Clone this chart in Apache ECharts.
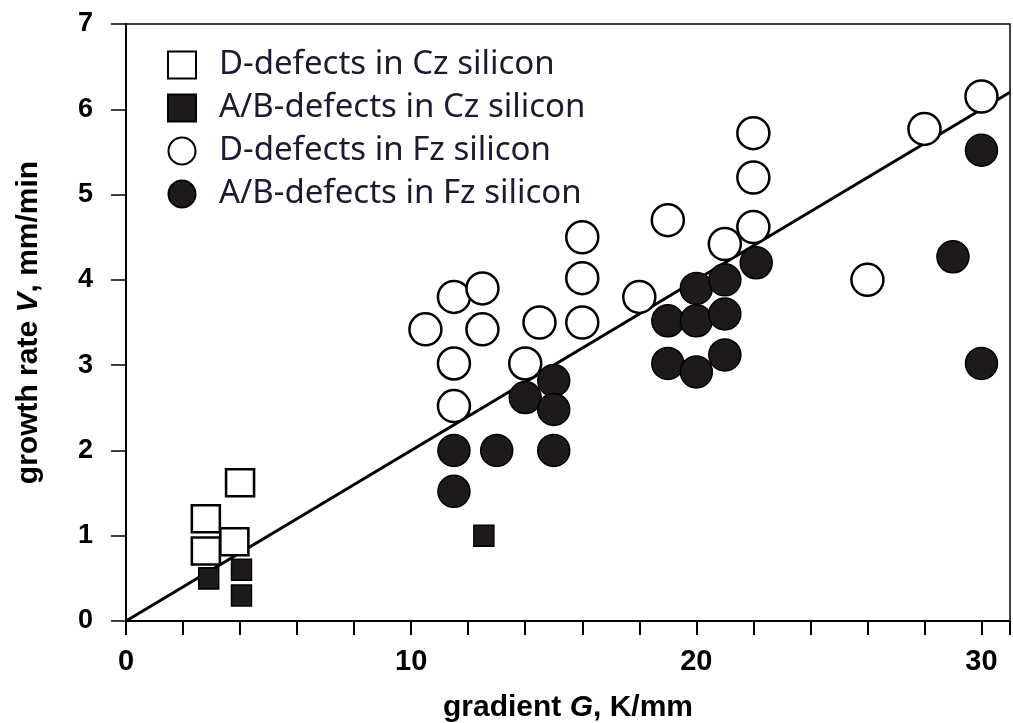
<!DOCTYPE html>
<html>
<head>
<meta charset="utf-8">
<script src="https://cdn.jsdelivr.net/npm/echarts@6/dist/echarts.min.js"></script>
<style>
  html, body { margin: 0; padding: 0; background: #fff; }
  #chart { width: 1013px; height: 723px; }
</style>
</head>
<body>
<div id="chart"></div>
<script>
// gradient G (K/mm), growth rate V (mm/min)
var czD = [[2.8, 1.2], [2.8, 0.82], [3.8, 0.93], [4.0, 1.62]];
var czAB = [[2.9, 0.5], [4.05, 0.6], [4.05, 0.3], [12.55, 1.0]];
var fzD = [
  [10.5, 3.42], [11.5, 3.8], [11.5, 3.02], [11.5, 2.52], [12.5, 3.9], [12.5, 3.42],
  [14.0, 3.02], [14.5, 3.5], [16, 4.5], [16, 4.02], [16, 3.5], [18, 3.8],
  [19, 4.7], [21, 4.42], [22, 4.62], [22, 5.2], [22, 5.72], [26, 4.0],
  [28, 5.77], [30, 6.15]
];
var fzAB = [
  [11.5, 1.52], [11.5, 2.0], [13, 2.0], [14, 2.62], [15, 2.82], [15, 2.48],
  [15, 2.0], [19, 3.52], [19, 3.02], [20, 3.9], [20, 3.52], [20, 2.92],
  [21, 4.0], [21, 3.6], [21, 3.12], [22.1, 4.2], [29, 4.27], [30, 5.52], [30, 3.02]
];
// critical V/G line
var fitLine = [[0, 0], [31, 6.2]];

var seriesNames = [
  'D-defects in Cz silicon',
  'A/B-defects in Cz silicon',
  'D-defects in Fz silicon',
  'A/B-defects in Fz silicon'
];

var myChart = echarts.init(document.getElementById('chart'));

var openStyle = { color: '#fff', borderColor: '#000', borderWidth: 2.5, opacity: 1 };
var fillStyle = { color: '#1e1a1a', borderColor: '#000', borderWidth: 1.5, opacity: 1 };

var nameRich = {
  b: { fontFamily: 'Liberation Sans', fontWeight: 'bold', fontSize: 30, color: '#000' },
  i: { fontFamily: 'Liberation Sans', fontWeight: 'bold', fontStyle: 'italic', fontSize: 30, color: '#000' }
};

var option = {
  animation: false,
  backgroundColor: '#fff',
  grid: {
    left: 126, top: 24, right: 3, bottom: 102,
    outerBoundsMode: 'none',
    containLabel: false,
    show: true, borderColor: '#000', borderWidth: 1.5
  },
  legend: {
    orient: 'vertical',
    left: 162,
    top: 43,
    itemWidth: 28,
    itemHeight: 27,
    itemGap: 9,
    data: seriesNames,
    textStyle: {
      fontFamily: 'Noto Sans',
      fontSize: 33,
      lineHeight: 34,
      color: '#1a1a30',
      padding: [0, 0, 0, 18]
    }
  },
  xAxis: {
    type: 'value',
    min: 0,
    max: 31,
    interval: 2,
    name: '{b|gradient }{i|G}{b|, K/mm}',
    nameLocation: 'middle',
    nameGap: 72,
    nameTextStyle: { rich: nameRich },
    axisLine: { onZero: false, lineStyle: { color: '#000', width: 2 } },
    axisTick: { inside: false, length: 14, lineStyle: { color: '#000', width: 2 } },
    axisLabel: {
      margin: 26,
      fontFamily: 'Liberation Sans',
      fontWeight: 'bold',
      fontSize: 29,
      color: '#000',
      formatter: function (v) { return v % 10 === 0 ? String(v) : ''; }
    },
    splitLine: { show: false }
  },
  yAxis: {
    type: 'value',
    min: 0,
    max: 7,
    interval: 1,
    name: '{b|growth rate }{i|V}{b|, mm/min}',
    nameLocation: 'middle',
    nameGap: 82,
    nameTextStyle: { rich: nameRich },
    axisLine: { onZero: false, lineStyle: { color: '#000', width: 2 } },
    axisTick: { inside: false, length: 15, lineStyle: { color: '#000', width: 1.5 } },
    axisLabel: {
      margin: 33,
      fontFamily: 'Liberation Sans',
      fontWeight: 'bold',
      fontSize: 27,
      color: '#000'
    },
    splitLine: { show: false }
  },
  series: [
    {
      name: 'fit',
      type: 'line',
      data: fitLine,
      symbol: 'none',
      lineStyle: { color: '#000', width: 3 },
      z: 1
    },
    {
      name: seriesNames[0],
      type: 'scatter',
      data: czD,
      symbol: 'rect',
      symbolSize: [28, 27],
      itemStyle: openStyle,
      z: 3
    },
    {
      name: seriesNames[1],
      type: 'scatter',
      data: czAB,
      symbol: 'rect',
      symbolSize: [20, 21],
      itemStyle: fillStyle,
      z: 3
    },
    {
      name: seriesNames[2],
      type: 'scatter',
      data: fzD,
      symbol: 'circle',
      symbolSize: 32,
      itemStyle: openStyle,
      z: 3
    },
    {
      name: seriesNames[3],
      type: 'scatter',
      data: fzAB,
      symbol: 'circle',
      symbolSize: 32,
      itemStyle: fillStyle,
      z: 4
    }
  ]
};

myChart.setOption(option);
window.addEventListener('resize', function () {
  myChart.resize();
});
</script>
</body>
</html>
